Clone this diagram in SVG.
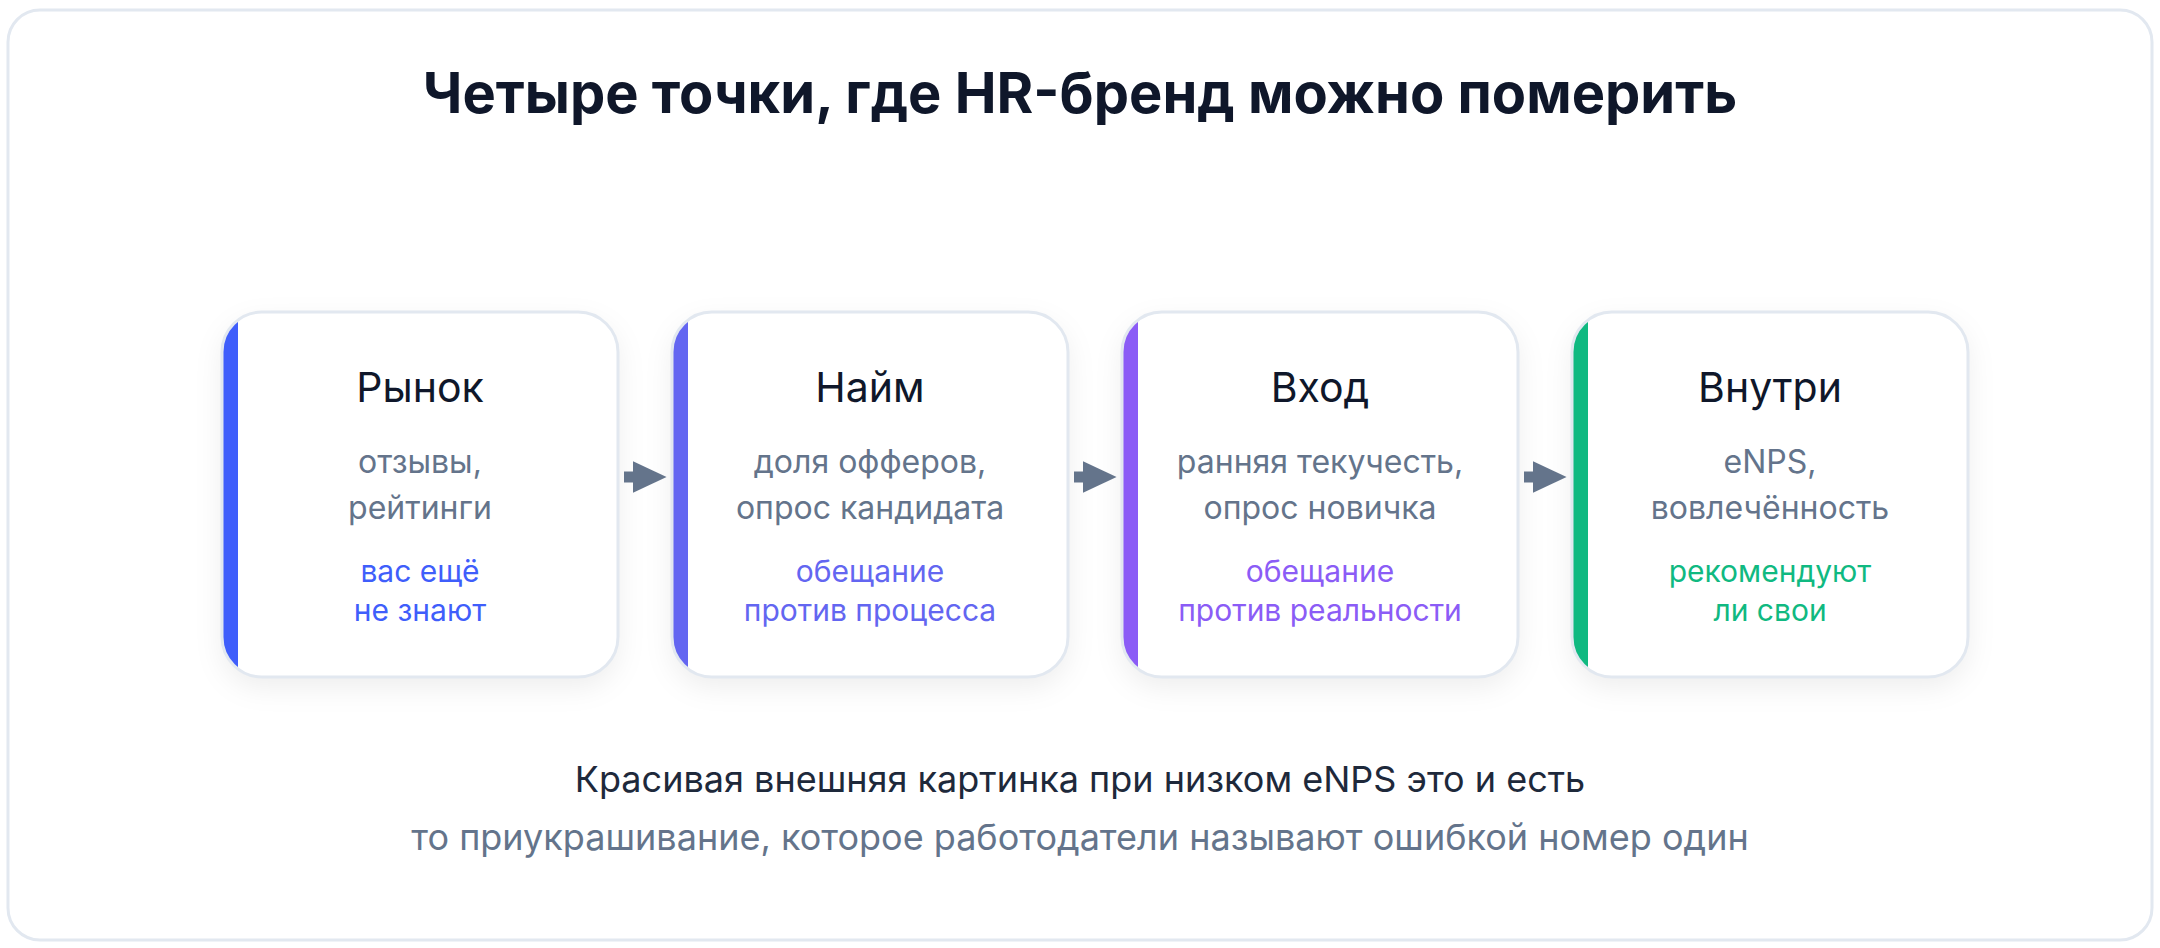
<svg xmlns="http://www.w3.org/2000/svg" width="2160" height="948" viewBox="0 0 2160 948">
<style>
text{font-family:Inter,"Noto Sans","Liberation Sans",sans-serif;text-anchor:middle}
.h1{font-size:56px;font-weight:700;fill:#0f172a}
.t{font-size:41px;font-weight:400;fill:#0f172a}
.d{font-size:32px;font-weight:400;fill:#64748b}
.a{font-size:30px;font-weight:400}
.card{fill:#fff}
.cardb{fill:none;stroke:#e2e8f0;stroke-width:3}
.f1{font-size:36px;fill:#1e293b}
.f2{font-size:36px;fill:#64748b}
.conn line{stroke:#64748b;stroke-width:11}
</style>
<defs>
<filter id="sh" x="-20%" y="-20%" width="140%" height="150%">
<feDropShadow dx="0" dy="10" stdDeviation="14" flood-color="#0f172a" flood-opacity="0.07"/>
</filter>
<marker id="ah" markerUnits="userSpaceOnUse" markerWidth="34" markerHeight="32" viewBox="0 0 32 30" refX="7" refY="15" orient="auto">
<path d="M0,0 L32,15 L0,30 z" fill="#64748b"/>
</marker>
<clipPath id="c1"><rect x="222" y="312" width="396" height="365" rx="40"/></clipPath>
<clipPath id="c2"><rect x="672" y="312" width="396" height="365" rx="40"/></clipPath>
<clipPath id="c3"><rect x="1122" y="312" width="396" height="365" rx="40"/></clipPath>
<clipPath id="c4"><rect x="1572" y="312" width="396" height="365" rx="40"/></clipPath>
</defs>
<rect width="2160" height="948" fill="#fff"/>
<rect x="8" y="10" width="2144" height="930" rx="32" fill="#fff" stroke="#e2e8f0" stroke-width="3"/>
<text class="h1" x="1080" y="113">Четыре точки, где HR-бренд можно померить</text>

<g id="node-rynok">
<rect class="card" x="222" y="312" width="396" height="365" rx="40" filter="url(#sh)"/>
<rect x="222" y="312" width="16" height="365" fill="#3f5efb" clip-path="url(#c1)"/>
<rect class="cardb" x="222" y="312" width="396" height="365" rx="40"/>
<text class="t" x="420" y="402">Рынок</text>
<text class="d" x="420" y="473">отзывы,</text>
<text class="d" x="420" y="519">рейтинги</text>
<text class="a" x="420" y="582" fill="#3f5efb">вас ещё</text>
<text class="a" x="420" y="621" fill="#3f5efb">не знают</text>
</g>

<g id="node-naym">
<rect class="card" x="672" y="312" width="396" height="365" rx="40" filter="url(#sh)"/>
<rect x="672" y="312" width="16" height="365" fill="#6366f1" clip-path="url(#c2)"/>
<rect class="cardb" x="672" y="312" width="396" height="365" rx="40"/>
<text class="t" x="870" y="402">Найм</text>
<text class="d" x="870" y="473">доля офферов,</text>
<text class="d" x="870" y="519">опрос кандидата</text>
<text class="a" x="870" y="582" fill="#6366f1">обещание</text>
<text class="a" x="870" y="621" fill="#6366f1">против процесса</text>
</g>

<g id="node-vhod">
<rect class="card" x="1122" y="312" width="396" height="365" rx="40" filter="url(#sh)"/>
<rect x="1122" y="312" width="16" height="365" fill="#8b5cf6" clip-path="url(#c3)"/>
<rect class="cardb" x="1122" y="312" width="396" height="365" rx="40"/>
<text class="t" x="1320" y="402">Вход</text>
<text class="d" x="1320" y="473">ранняя текучесть,</text>
<text class="d" x="1320" y="519">опрос новичка</text>
<text class="a" x="1320" y="582" fill="#8b5cf6">обещание</text>
<text class="a" x="1320" y="621" fill="#8b5cf6">против реальности</text>
</g>

<g id="node-vnutri">
<rect class="card" x="1572" y="312" width="396" height="365" rx="40" filter="url(#sh)"/>
<rect x="1572" y="312" width="16" height="365" fill="#10b981" clip-path="url(#c4)"/>
<rect class="cardb" x="1572" y="312" width="396" height="365" rx="40"/>
<text class="t" x="1770" y="402">Внутри</text>
<text class="d" x="1770" y="473">eNPS,</text>
<text class="d" x="1770" y="519">вовлечённость</text>
<text class="a" x="1770" y="582" fill="#10b981">рекомендуют</text>
<text class="a" x="1770" y="621" fill="#10b981">ли свои</text>
</g>

<g id="connectors" class="conn">
<line x1="624" y1="477" x2="640" y2="477" marker-end="url(#ah)"/>
<line x1="1074" y1="477" x2="1090" y2="477" marker-end="url(#ah)"/>
<line x1="1524" y1="477" x2="1540" y2="477" marker-end="url(#ah)"/>
</g>

<text class="f1" x="1080" y="792">Красивая внешняя картинка при низком eNPS это и есть</text>
<text class="f2" x="1080" y="850">то приукрашивание, которое работодатели называют ошибкой номер один</text>
</svg>
